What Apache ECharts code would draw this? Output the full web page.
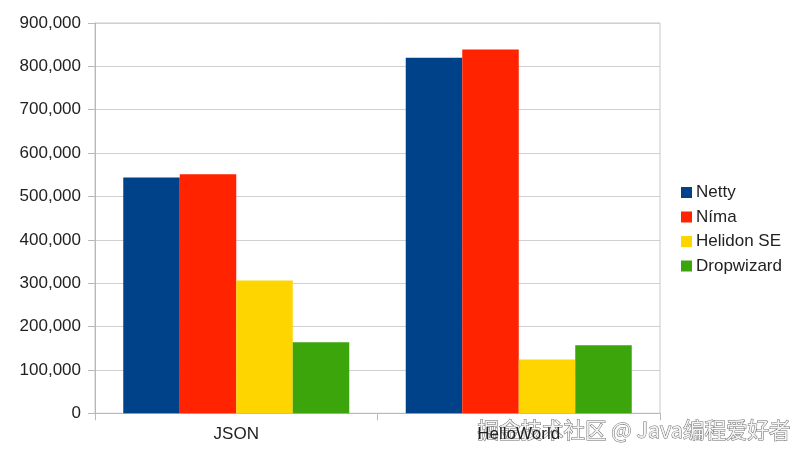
<!DOCTYPE html>
<html>
<head>
<meta charset="utf-8">
<script src="https://cdn.jsdelivr.net/npm/echarts@6/dist/echarts.min.js"></script>
<style>html,body{margin:0;padding:0;background:#fff;}#c{width:803px;height:458px;}</style>
</head>
<body>
<div id="c"></div>
<script>
const categories = ['JSON', 'HelloWorld'];
const seriesNames = ['Netty', 'Níma', 'Helidon SE', 'Dropwizard'];
const netty = [544000, 820000];
const nima = [551000, 839000];
const helidonSE = [306000, 124000];
const dropwizard = [164000, 157000];
const yTicks = { min: 0, max: 900000, interval: 100000 };
const colors = ['#004289', '#ff2300', '#ffd500', '#3ca50b'];

const values = [netty, nima, helidonSE, dropwizard];
const font = 'Liberation Sans, Arial, sans-serif';
const chart = echarts.init(document.getElementById('c'));
chart.setOption({
  animation: false,
  backgroundColor: '#fff',
  color: colors,
  grid: { left: 95, right: 143, top: 23, bottom: 44.7, show: true, borderColor: '#c8c8c8', borderWidth: 1 },
  legend: {
    orient: 'vertical', left: 676, top: 179,
    itemWidth: 11, itemHeight: 11, itemGap: 7.5,
    icon: 'rect',
    textStyle: { fontFamily: font, fontSize: 17, color: '#222', padding: [0, 0, 0, -1] },
    data: seriesNames
  },
  xAxis: {
    type: 'category', data: categories,
    axisLine: { lineStyle: { color: '#b8b8b8' } },
    axisTick: { show: true, length: 7, lineStyle: { color: '#b8b8b8' } },
    axisLabel: { fontFamily: font, fontSize: 17, color: '#222', margin: 13 }
  },
  yAxis: {
    type: 'value', min: yTicks.min, max: yTicks.max, interval: yTicks.interval,
    axisLine: { show: true, lineStyle: { color: '#b8b8b8' } },
    axisTick: { show: true, length: 7, lineStyle: { color: '#b8b8b8' } },
    splitLine: { lineStyle: { color: '#d0d0d0' } },
    axisLabel: {
      fontFamily: font, fontSize: 17, color: '#222', margin: 14,
      formatter: v => v.toLocaleString('en-US')
    }
  },
  series: seriesNames.map((n, i) => ({
    name: n, type: 'bar', data: values[i],
    barGap: '0%', barCategoryGap: '20%'
  })),
  graphic: [{
    type: 'text', left: 477, top: 419,
    style: {
      text: '掘金技术社区 @ Java编程爱好者',
      font: '21.5px "Noto Sans CJK SC", sans-serif',
      fill: '#f4f4f4', stroke: '#6a6a6a', lineWidth: 1
    }
  }]
});
</script>
</body>
</html>
